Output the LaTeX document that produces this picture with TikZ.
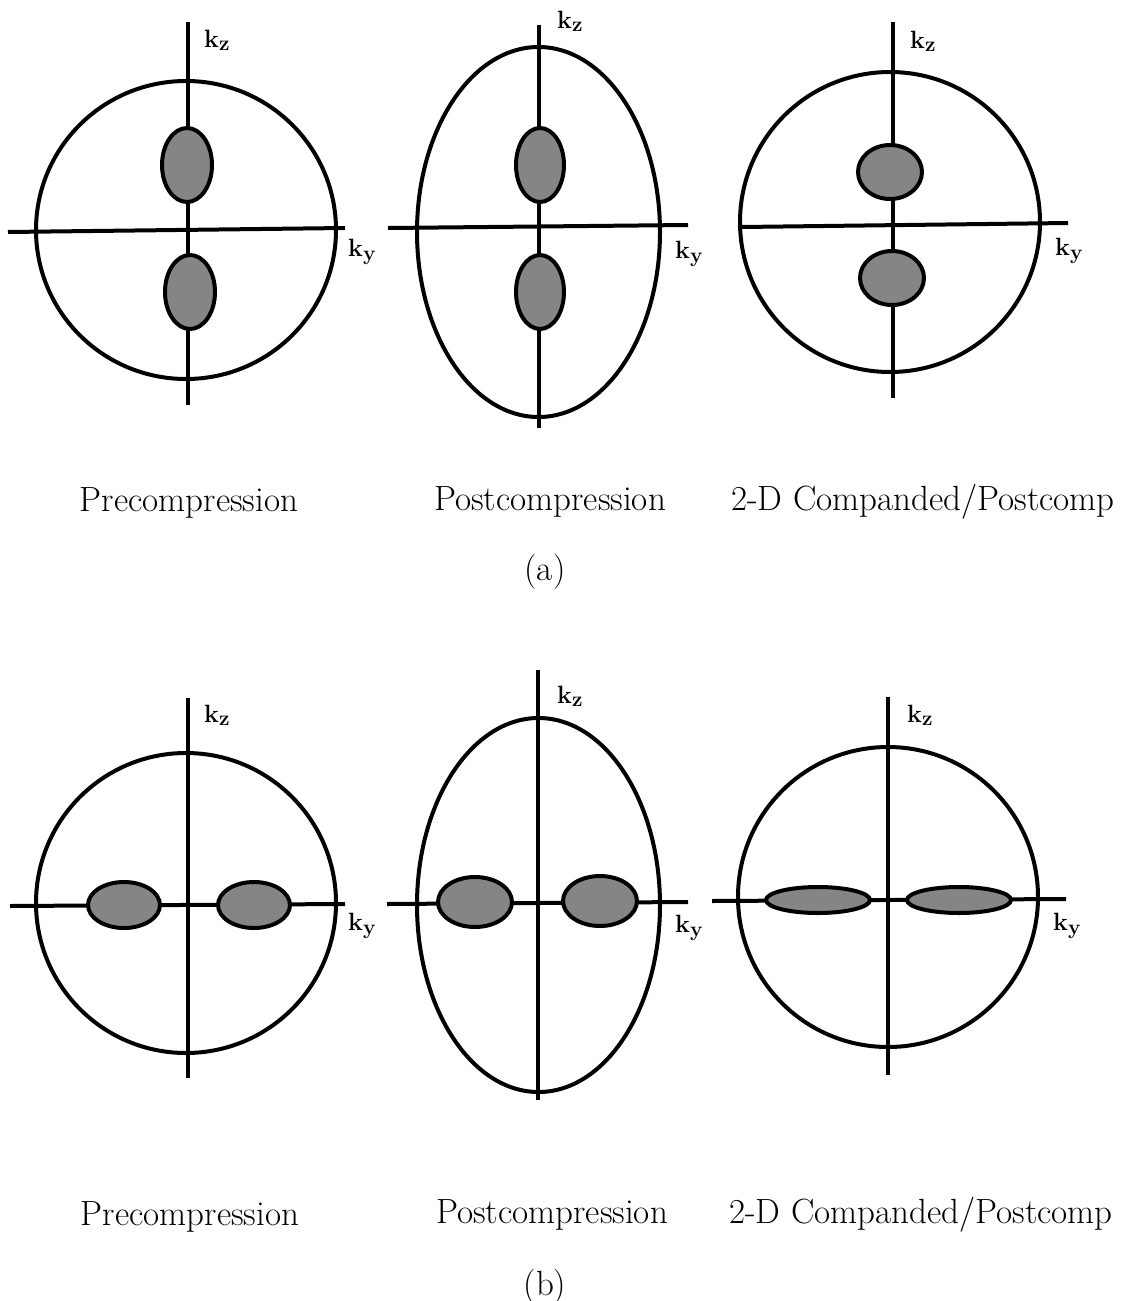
\documentclass[tikz,border=0pt]{standalone}
\begin{document}
\begin{tikzpicture}[x=1pt,y=-1pt,
  ring/.style={draw=black,line width=4pt},
  axis/.style={draw=black,line width=4pt},
  blob/.style={draw=black,line width=4pt,fill=black!48},
  klabel/.style={inner sep=0pt,anchor=base west,font=\bfseries\fontsize{25}{25}\selectfont},
  caption/.style={inner sep=0pt,font=\fontsize{35}{40}\selectfont}]
\useasboundingbox (0,0) rectangle (1127,1301);
\newcommand{\kz}{k\raisebox{-0.3ex}{\fontsize{21}{21}\selectfont z}}
\newcommand{\ky}{k\raisebox{-0.4ex}{\fontsize{21}{21}\selectfont y}}
% ---------- panel (a) ----------
% left
\draw[ring] (186,230) ellipse [x radius=150,y radius=149];
\coordinate (a1t) at (188,22); \coordinate (a1b) at (188,405);
\coordinate (a1l) at (8,232); \coordinate (a1r) at (345,228);
\draw[axis] (a1t) -- (a1b); \draw[axis] (a1l) -- (a1r);
\draw[blob] (187,165) ellipse [x radius=25,y radius=37];
\draw[blob] (190,292) ellipse [x radius=25,y radius=37];
\node[klabel] (a1kz) at (204,47) {\kz};
\node[klabel] (a1ky) at (348,256) {\ky};
% middle
\draw[ring] (538.5,232) ellipse [x radius=121.5,y radius=185];
\coordinate (a2t) at (539,25); \coordinate (a2b) at (539,428);
\coordinate (a2l) at (388,228); \coordinate (a2r) at (688,225);
\draw[axis] (a2t) -- (a2b); \draw[axis] (a2l) -- (a2r);
\draw[blob] (540,165) ellipse [x radius=24,y radius=37];
\draw[blob] (540,292) ellipse [x radius=24,y radius=37];
\node[klabel] (a2kz) at (557,28) {\kz};
\node[klabel] (a2ky) at (675,258) {\ky};
% right
\draw[ring] (890,222) circle [radius=150];
\coordinate (a3t) at (893,22); \coordinate (a3b) at (893,398);
\coordinate (a3l) at (742,227); \coordinate (a3r) at (1068,223);
\draw[axis] (a3t) -- (a3b); \draw[axis] (a3l) -- (a3r);
\draw[blob] (890,172) ellipse [x radius=32,y radius=27];
\draw[blob] (892,278) ellipse [x radius=32,y radius=27];
\node[klabel] (a3kz) at (910,48) {\kz};
\node[klabel] (a3ky) at (1055,255) {\ky};
% captions
\node[caption] (c1) at (189,503) {Precompression};
\node[caption] (c2) at (550,502) {Postcompression};
\node[caption] (c3) at (923,502) {2-D Companded/Postcomp};
\node[caption] (ca) at (545,572) {(a)};
% ---------- panel (b) ----------
% left
\draw[ring] (186,903) circle [radius=150];
\coordinate (b1t) at (188,698); \coordinate (b1b) at (188,1078);
\coordinate (b1l) at (10,906); \coordinate (b1r) at (345,904);
\draw[axis] (b1t) -- (b1b); \draw[axis] (b1l) -- (b1r);
\draw[blob] (124,905) ellipse [x radius=36,y radius=23];
\draw[blob] (254,905) ellipse [x radius=36,y radius=23];
\node[klabel] (b1kz) at (204,722) {\kz};
\node[klabel] (b1ky) at (348,930) {\ky};
% middle
\draw[ring] (538.5,905) ellipse [x radius=121.5,y radius=187];
\coordinate (b2t) at (538,670); \coordinate (b2b) at (538,1100);
\coordinate (b2l) at (387,904); \coordinate (b2r) at (688,902);
\draw[axis] (b2t) -- (b2b); \draw[axis] (b2l) -- (b2r);
\draw[blob] (475,902) ellipse [x radius=37,y radius=25];
\draw[blob] (600,901) ellipse [x radius=37,y radius=25];
\node[klabel] (b2kz) at (557,703) {\kz};
\node[klabel] (b2ky) at (675,932) {\ky};
% right
\draw[ring] (888,897) circle [radius=150];
\coordinate (b3t) at (888,697); \coordinate (b3b) at (888,1075);
\coordinate (b3l) at (712,901); \coordinate (b3r) at (1066,899);
\draw[axis] (b3t) -- (b3b); \draw[axis] (b3l) -- (b3r);
\draw[blob] (818,900) ellipse [x radius=52,y radius=13];
\draw[blob] (959,900) ellipse [x radius=52,y radius=13];
\node[klabel] (b3kz) at (907,722) {\kz};
\node[klabel] (b3ky) at (1053,930) {\ky};
% captions
\node[caption] (d1) at (190,1217) {Precompression};
\node[caption] (d2) at (552,1215) {Postcompression};
\node[caption] (d3) at (921,1215) {2-D Companded/Postcomp};
\node[caption] (cb) at (545,1287) {(b)};
\end{tikzpicture}
\end{document}
